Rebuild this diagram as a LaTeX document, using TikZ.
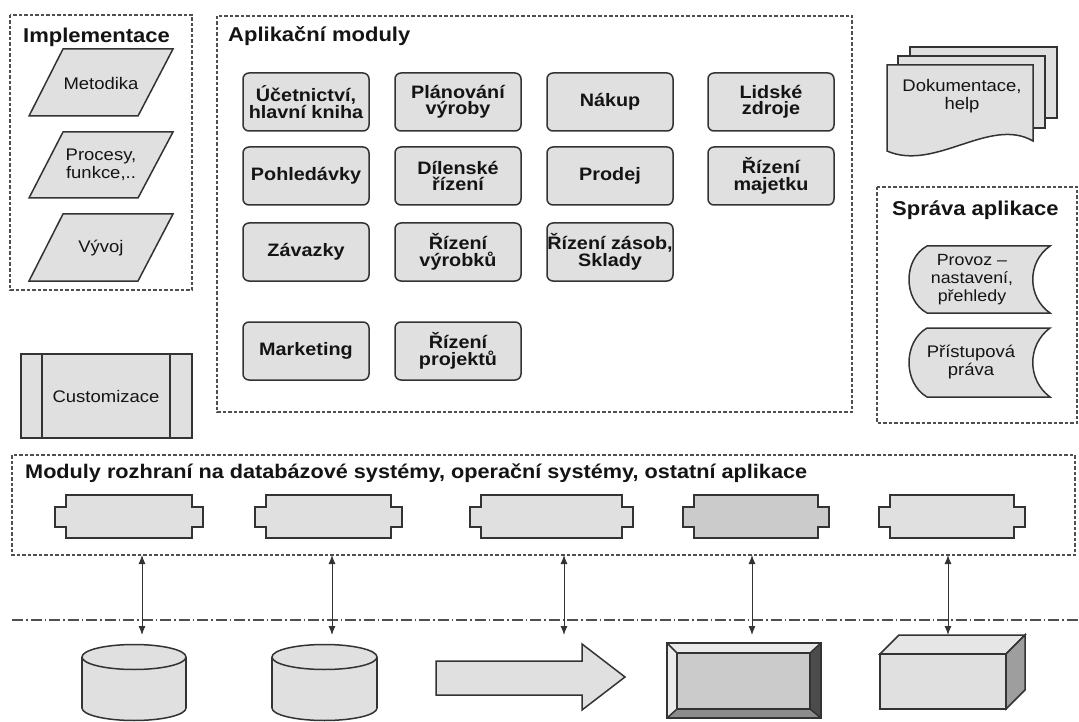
\documentclass[tikz,border=0pt]{standalone}
\usepackage{fontspec}
\setmainfont{Liberation Sans}[FakeStretch=1.1]
\usetikzlibrary{arrows.meta}
\definecolor{fillg}{HTML}{E0E0E0}
\definecolor{filld}{HTML}{CBCBCB}
\definecolor{lineg}{HTML}{333333}
\definecolor{grpg}{HTML}{4F4F4F}
\definecolor{txt}{HTML}{141414}
\begin{document}
\begin{tikzpicture}[x=1pt,y=-1pt,
  outline/.style={draw=lineg, line width=1.5pt},
  group/.style={draw=grpg, line width=1.1pt, dash pattern=on 3.5pt off 2pt},
  title/.style={font=\fontsize{20}{22}\selectfont\bfseries, anchor=base west, inner sep=0, text=txt},
  module/.style={outline, fill=fillg, rounded corners=6pt, minimum width=126pt, minimum height=58pt, align=center, font=\fontsize{18}{16.5}\selectfont\bfseries, inner sep=0, text=txt},
  lbl/.style={align=center, font=\fontsize{16.8}{17.5}\selectfont, inner sep=0, text=txt},
  link/.style={{Latex[length=9pt,width=7pt]}-{Latex[length=9pt,width=7pt]}, line width=1pt, draw=lineg}
]
\fill[white] (0,0) rectangle (1079,722);
\useasboundingbox (0,0) rectangle (1079,722);

% ---------- group frames ----------
\draw[group] (10,15) rectangle (192,290);
\draw[group] (217,16) rectangle (852,412);
\draw[group] (877,187) rectangle (1077,423);
\draw[group] (12,455) rectangle (1075,555);

\node[title] (timpl) at (23,43) {Implementace};
\node[title] (tapl) at (228,42) {Aplikační moduly};
\node[title] (tspr) at (892,215) {Správa aplikace};
\node[title, font=\fontsize{19.7}{22}\selectfont\bfseries] (tmod) at (25,478) {Moduly rozhraní na databázové systémy, operační systémy, ostatní aplikace};

% ---------- Implementace ----------
\draw[outline, fill=fillg] (63,49) -- (173,49) -- (138,116) -- (29,116) -- cycle;
\node[lbl] (metodika) at (101,83) {Metodika};
\draw[outline, fill=fillg] (63,132) -- (173,132) -- (138,198) -- (29,198) -- cycle;
\node[lbl] (procesy) at (101,165) {Procesy,\\funkce,..};
\draw[outline, fill=fillg] (63,214) -- (173,214) -- (138,281) -- (29,281) -- cycle;
\node[lbl] (vyvoj) at (101,248) {Vývoj};

% ---------- Customizace ----------
\draw[outline, fill=fillg] (21,354) rectangle (192,438);
\draw[outline] (42,354) -- (42,438);
\draw[outline] (170,354) -- (170,438);
\node[lbl] (custom) at (106,396) {Customizace};

% ---------- Aplikacni moduly ----------
\node[module] (ucet) at (306,102) {Účetnictví,\\hlavní kniha};
\node[module] (plan) at (458,102) {Plánování\\výroby};
\node[module] (nakup) at (610,102) {Nákup};
\node[module] (lidske) at (771,102) {Lidské\\zdroje};
\node[module] (pohl) at (306,176) {Pohledávky};
\node[module] (dilen) at (458,176) {Dílenské\\řízení};
\node[module] (prodej) at (610,176) {Prodej};
\node[module] (majetek) at (771,176) {Řízení\\majetku};
\node[module] (zavazky) at (306,252) {Závazky};
\node[module] (vyrobky) at (458,252) {Řízení\\výrobků};
\node[module] (zasoby) at (610,252) {Řízení zásob,\\Sklady};
\node[module] (marketing) at (306,351) {Marketing};
\node[module] (projekty) at (458,351) {Řízení\\projektů};

% ---------- Dokumentace ----------
\draw[outline, fill=fillg] (910,47) rectangle (1057,118);
\draw[outline, fill=fillg] (898,56) rectangle (1045,128);
\draw[outline, fill=fillg] (887,65) -- (1033,65) -- (1033,141)
   .. controls (990,116) and (935,172) .. (887,151) -- cycle;
\node[lbl] (dok) at (962,96) {Dokumentace,\\help};

% ---------- Sprava aplikace ----------
\draw[outline, fill=fillg] (927,246) -- (1050,246) .. controls (1027,262) and (1027,297) .. (1050,313)
   -- (927,313) .. controls (903,300) and (903,259) .. (927,246) -- cycle;
\node[lbl, font=\fontsize{16.2}{18}\selectfont] (provoz) at (972,280) {Provoz –\\nastavení,\\přehledy};
\draw[outline, fill=fillg] (927,328) -- (1050,328) .. controls (1027,345) and (1027,380) .. (1050,397)
   -- (927,397) .. controls (903,383) and (903,342) .. (927,328) -- cycle;
\node[lbl] (pristup) at (971,362) {Přístupová\\práva};

% ---------- interface modules ----------
\newcommand\ifcshape[3]{%
  \draw[outline, fill=#3] (#1+11,495) -- (#2-11,495) -- (#2-11,507) -- (#2,507) -- (#2,527)
    -- (#2-11,527) -- (#2-11,538) -- (#1+11,538) -- (#1+11,527) -- (#1,527) -- (#1,507)
    -- (#1+11,507) -- cycle;}
\ifcshape{55}{203}{fillg}
\ifcshape{255}{402}{fillg}
\ifcshape{470}{633}{fillg}
\ifcshape{683}{829}{filld}
\ifcshape{879}{1025}{fillg}

% ---------- separator ----------
\draw[grpg, line width=1.1pt, dash pattern=on 11pt off 3pt on 1.5pt off 3pt] (12,620) -- (1079,620);

% ---------- connectors ----------
\foreach \i/\x in {1/142,2/332,3/564,4/752,5/948}{
  \coordinate (top\i) at (\x,555);
  \coordinate (bot\i) at (\x,635);
}
\foreach \i in {1,...,5}{\draw[link] (top\i) -- (bot\i);}

% ---------- bottom shapes ----------
% cylinders
\draw[outline, fill=fillg] (134,708) ellipse [x radius=52, y radius=12.5];
\fill[fillg] (82,657) rectangle (186,708);
\draw[outline] (82,657) -- (82,708) (186,657) -- (186,708);
\draw[outline, fill=fillg] (134,657) ellipse [x radius=52, y radius=12.5];

\draw[outline, fill=fillg] (324.5,708) ellipse [x radius=52.5, y radius=12.5];
\fill[fillg] (272,657) rectangle (377,708);
\draw[outline] (272,657) -- (272,708) (377,657) -- (377,708);
\draw[outline, fill=fillg] (324.5,657) ellipse [x radius=52.5, y radius=12.5];

% big arrow
\draw[outline, fill=fillg] (436,661) -- (582,661) -- (582,644) -- (625,677) -- (582,710)
   -- (582,695) -- (436,695) -- cycle;

% bevelled rectangle
\fill[fill=fillg!70!white] (667,643) -- (821,643) -- (810,653) -- (677,653) -- cycle;
\fill[fill=white!92!black] (667,643) -- (677,653) -- (677,709) -- (667,718) -- cycle;
\fill[fill=black!70] (821,643) -- (821,718) -- (810,709) -- (810,653) -- cycle;
\fill[fill=black!45] (667,718) -- (821,718) -- (810,709) -- (677,709) -- cycle;
\draw[outline, fill=filld] (677,653) rectangle (810,709);
\draw[outline] (667,643) rectangle (821,718);
\draw[outline] (667,643) -- (677,653) (821,643) -- (810,653) (821,718) -- (810,709) (667,718) -- (677,709);

% 3D box
\draw[outline, fill=fillg!80!white] (880,654) -- (899,635) -- (1025,635) -- (1006,654) -- cycle;
\draw[outline, fill=black!38] (1006,654) -- (1025,635) -- (1025,690) -- (1006,709) -- cycle;
\draw[outline, fill=fillg] (880,654) rectangle (1006,709);
\end{tikzpicture}
\end{document}
